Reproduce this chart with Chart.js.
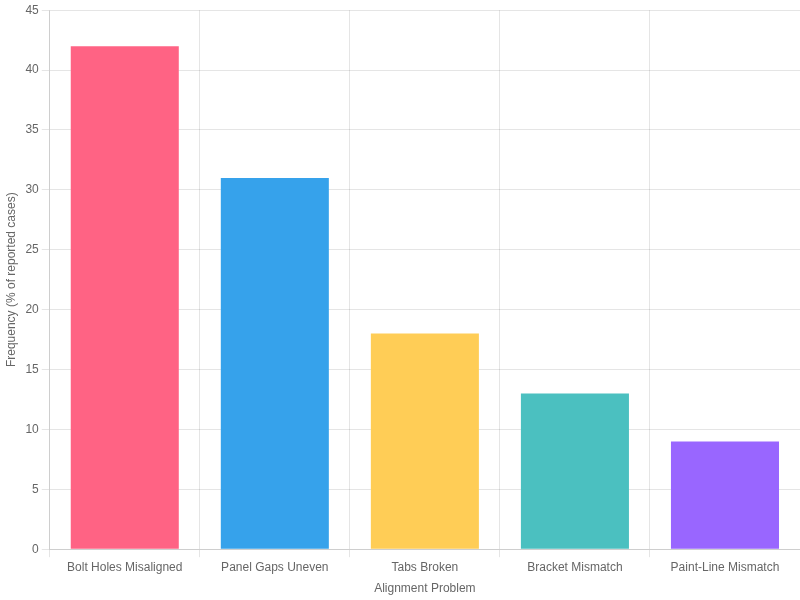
<!DOCTYPE html>
<html>
<head>
<meta charset="utf-8">
<script src="https://cdn.jsdelivr.net/npm/chart.js@4"></script>
<style>
  html, body { margin: 0; padding: 0; background: #fff; }
  #wrap { width: 800px; height: 600px; }
</style>
</head>
<body>
<div id="wrap"><canvas id="chart"></canvas></div>
<script>
const categories = ['Bolt Holes Misaligned', 'Panel Gaps Uneven', 'Tabs Broken', 'Bracket Mismatch', 'Paint-Line Mismatch'];
const frequency = [42, 31, 18, 13, 9];
const barColors = ['rgb(255, 99, 132)', 'rgb(54, 162, 235)', 'rgb(255, 205, 86)', 'rgb(75, 192, 192)', 'rgb(153, 102, 255)'];

const ctx = document.getElementById('chart').getContext('2d');
new Chart(ctx, {
    type: 'bar',
    data: {
        labels: categories,
        datasets: [{
            label: 'Frequency',
            data: frequency,
            backgroundColor: barColors,
            borderWidth: 0
        }]
    },
    options: {
        responsive: true,
        maintainAspectRatio: false,
        animation: false,
        plugins: {
            legend: { display: false }
        },
        scales: {
            x: {
                title: { display: true, text: 'Alignment Problem' }
            },
            y: {
                beginAtZero: true,
                max: 45,
                ticks: { stepSize: 5 },
                title: { display: true, text: 'Frequency (% of reported cases)' }
            }
        }
    }
});
</script>
</body>
</html>
